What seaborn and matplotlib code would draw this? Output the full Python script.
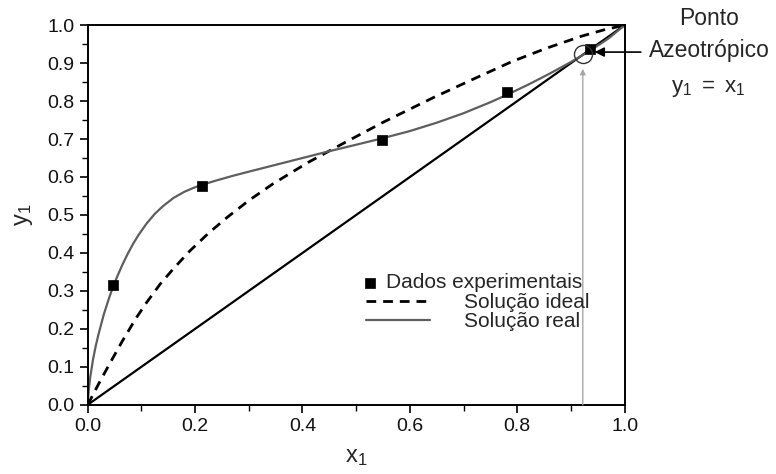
import matplotlib
matplotlib.use("Agg")
import matplotlib.pyplot as plt
from matplotlib.ticker import MultipleLocator
import seaborn as sns

exp_x = [0.047, 0.212, 0.549, 0.780, 0.935]
exp_y = [0.316, 0.577, 0.697, 0.824, 0.938]

# solução ideal (curva tracejada)
ideal_x = [0.0, 0.02, 0.04, 0.065, 0.09, 0.11, 0.135, 0.16, 0.19, 0.225, 0.26, 0.3,
           0.345, 0.41, 0.47, 0.55, 0.645, 0.72, 0.79, 0.854, 0.92, 0.96, 1.0]
ideal_y = [0.0, 0.054, 0.106, 0.169, 0.228, 0.270, 0.318, 0.359, 0.405, 0.452, 0.494, 0.538,
           0.582, 0.638, 0.684, 0.744, 0.810, 0.859, 0.904, 0.939, 0.971, 0.987, 1.0]

# solução real (curva cinza)
real_x = [0.0, 0.002, 0.005, 0.01, 0.015, 0.02, 0.03, 0.04, 0.047, 0.055, 0.065, 0.075,
          0.085, 0.095, 0.11, 0.125, 0.14, 0.16, 0.18, 0.2, 0.212, 0.24, 0.27, 0.3, 0.35,
          0.4, 0.45, 0.5, 0.549, 0.6, 0.65, 0.7, 0.75, 0.78, 0.82, 0.86, 0.9, 0.935, 0.97, 1.0]
real_y = [0.0, 0.04, 0.075, 0.12, 0.155, 0.185, 0.238, 0.282, 0.31, 0.338, 0.37, 0.399,
          0.425, 0.448, 0.478, 0.503, 0.523, 0.545, 0.561, 0.573, 0.579, 0.591, 0.603, 0.614, 0.632,
          0.65, 0.668, 0.685, 0.702, 0.721, 0.743, 0.768, 0.797, 0.816, 0.843, 0.872, 0.903, 0.932, 0.965, 1.0]

# linha y1 = x1
diag_x = [0.0, 1.0]
diag_y = [0.0, 1.0]

# ponto azeotrópico
azeo_x = 0.922
azeo_y = 0.925

sns.set_style("ticks")
plt.rcParams['font.family'] = ['Liberation Sans', 'DejaVu Sans']
plt.rcParams['mathtext.fontset'] = 'custom'
plt.rcParams['mathtext.rm'] = 'Liberation Sans'
plt.rcParams['mathtext.it'] = 'Liberation Sans'

fig = plt.figure(figsize=(7.76, 4.74), dpi=100)
ax = fig.add_axes([0.113, 0.146, 0.692, 0.801])

sns.lineplot(x=diag_x, y=diag_y, ax=ax, color='black', lw=1.6, sort=False,
             estimator=None, legend=False)
sns.lineplot(x=ideal_x, y=ideal_y, ax=ax, color='black', lw=2.0, sort=False,
             estimator=None, label='Solução ideal')
ax.lines[-1].set_linestyle((0, (3.5, 2.5)))
sns.lineplot(x=real_x, y=real_y, ax=ax, color='#5e5e5e', lw=1.6, sort=False,
             estimator=None, label='Solução real')
sns.scatterplot(x=exp_x, y=exp_y, ax=ax, marker='s', color='black', s=60,
                edgecolor='black', linewidth=0.5, zorder=5, label='Dados experimentais')

# ponto azeotrópico (círculo)
ax.plot([azeo_x], [azeo_y], marker='o', ms=13, mfc='none', mec='#333333', mew=1.0,
        zorder=6, clip_on=False)

# seta cinza vertical
ax.annotate('', xy=(azeo_x, 0.885), xytext=(azeo_x, 0.0),
            arrowprops=dict(arrowstyle='-|>', color='#a8a8a8', lw=1.0,
                            mutation_scale=8, shrinkA=0, shrinkB=0))

# seta do texto ao ponto
ax.annotate('', xy=(0.944, 0.929), xytext=(1.03, 0.929),
            arrowprops=dict(arrowstyle='-|>', color='black', lw=1.2,
                            mutation_scale=14, shrinkA=0, shrinkB=0),
            annotation_clip=False)

ax.text(1.158, 1.018, 'Ponto', ha='center', va='center', fontsize=16.5, clip_on=False)
ax.text(1.158, 0.934, 'Azeotrópico', ha='center', va='center', fontsize=16.5,
        clip_on=False)
ax.text(1.155, 0.834, r'$\mathregular{y_1\ =\ x_1}$', ha='center', va='center',
        fontsize=16, clip_on=False)

ax.set_xlim(0, 1)
ax.set_ylim(0, 1)
ax.xaxis.set_major_locator(MultipleLocator(0.2))
ax.xaxis.set_minor_locator(MultipleLocator(0.1))
ax.yaxis.set_major_locator(MultipleLocator(0.1))
ax.yaxis.set_minor_locator(MultipleLocator(0.05))
ax.xaxis.set_major_formatter(plt.FormatStrFormatter('%.1f'))
ax.yaxis.set_major_formatter(plt.FormatStrFormatter('%.1f'))
ax.tick_params(which='major', direction='out', length=6, width=1.2, labelsize=14,
               color='black', labelcolor='#111111')
ax.tick_params(which='minor', direction='out', length=4, width=1.0, color='black')
for sp in ax.spines.values():
    sp.set_visible(True)
    sp.set_color('black')
    sp.set_linewidth(1.4)

ax.set_xlabel(r'$\mathregular{x_1}$', fontsize=17, labelpad=8)
ax.set_ylabel(r'$\mathregular{y_1}$', fontsize=17, labelpad=9)

# legenda (duas partes: marcador e linhas)
handles, labels = ax.get_legend_handles_labels()
h = dict(zip(labels, handles))
leg1 = ax.legend([h['Dados experimentais']], ['Dados experimentais'],
                 loc='center left', bbox_to_anchor=(0.515, 0.322), frameon=False,
                 fontsize=15, handlelength=0.6, handletextpad=0.45, borderpad=0,
                 borderaxespad=0)
ax.add_artist(leg1)
leg2 = ax.legend([h['Solução ideal'], h['Solução real']], ['Solução ideal', 'Solução real'],
                 loc='upper left', bbox_to_anchor=(0.518, 0.295), frameon=False,
                 fontsize=15, labelspacing=0.0, handlelength=3.1,
                 handletextpad=1.6, borderpad=0, borderaxespad=0)

fig.savefig('out.png', dpi=100)
